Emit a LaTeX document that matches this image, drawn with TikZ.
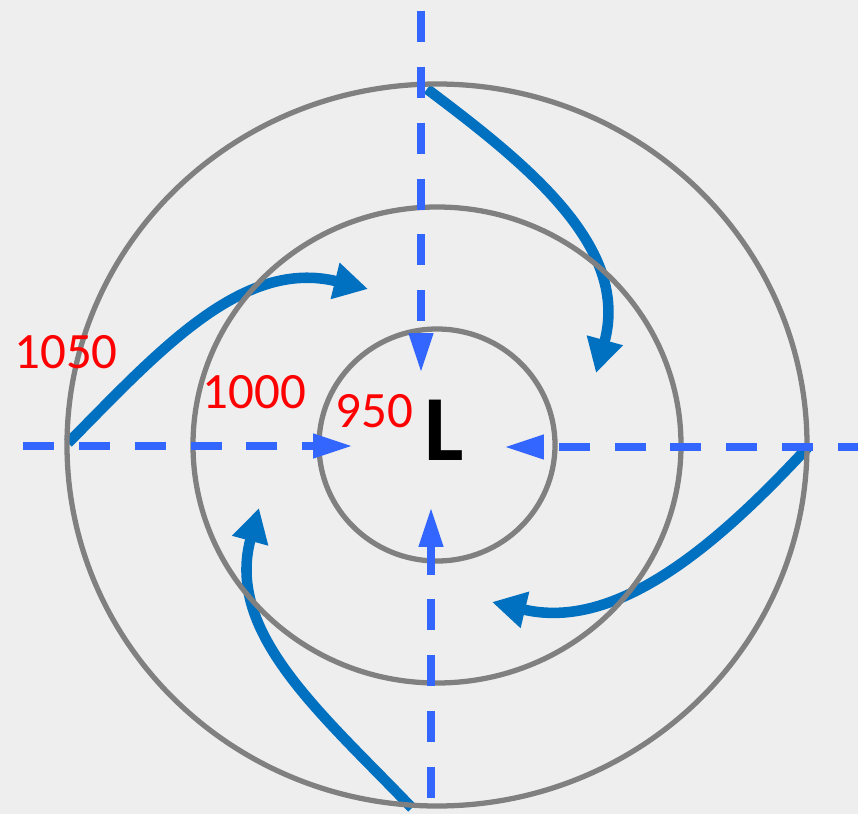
\documentclass[tikz,border=0pt]{standalone}
\usepackage{fontspec}
\setmainfont{Carlito}
\usepackage{xcolor}
\usepackage{tikz}
\usetikzlibrary{arrows.meta}

\definecolor{bgcol}{HTML}{EEEEEE}
\definecolor{isogray}{HTML}{808080}
\definecolor{dashblue}{HTML}{3366FF}
\definecolor{windblue}{HTML}{0070C0}
\definecolor{isored}{HTML}{FF0000}

\begin{document}
\begin{tikzpicture}[
    x=0.02cm, y=-0.02cm,
    isobar/.style={draw=isogray, line width=3pt},
    inflow/.style={draw=dashblue, line width=4.4pt, dash pattern=on 17.6pt off 14.2pt, -{Triangle[length=22.7pt, width=13pt]}},
    wind/.style={draw=windblue, line width=6pt, -{Triangle[length=19.3pt, width=20pt]}},
    pressure/.style={text=isored, inner sep=0pt, font=\fontsize{29}{34}\selectfont}
]

\useasboundingbox (0,0) rectangle (858,814);
\fill[bgcol] (0,0) rectangle (858,814);

\coordinate (c) at (437,445);
\coordinate (nTop) at (421,11);    \coordinate (tTop) at (421,373);
\coordinate (nLeft) at (23,446);   \coordinate (tLeft) at (353,446);
\coordinate (nRight) at (869,447); \coordinate (tRight) at (504,447);
\coordinate (nBot) at (431,798);   \coordinate (tBot) at (431,507);

\coordinate (w1s) at (68,443);  \coordinate (w1e) at (368,289);
\coordinate (w2s) at (427,89);  \coordinate (w2e) at (596,373);
\coordinate (w3s) at (808,447); \coordinate (w3e) at (492,602);
\coordinate (w4s) at (412,808); \coordinate (w4e) at (259,508);

% wind spiralling in
\draw[wind] (w1s) .. controls +(91,-92) and +(-126,-31) .. (w1e);
\draw[wind] (w2s) .. controls +(104,78) and +(34,-125) .. (w2e);
\draw[wind] (w3s) .. controls +(-88,95) and +(126,30) .. (w3e);
\draw[wind] (w4s) .. controls +(-90,-94) and +(-34,125) .. (w4e);

\draw[isobar] (c) ellipse [x radius=370, y radius=361];
\draw[isobar] (c) ellipse [x radius=244, y radius=238];
\draw[isobar] (c) ellipse [x radius=118, y radius=116];

\draw[inflow] (nTop) -- (tTop);
\draw[inflow] (nLeft) -- (tLeft);
\draw[inflow] (nRight) -- (tRight);
\draw[inflow] (nBot) -- (tBot);

\node[pressure] (p1050) at (66,352) {1050};
\node[pressure] (p1000) at (254.5,392) {1000};
\node[pressure] (p950) at (374.5,411.5) {950};
\node[inner sep=0pt, font=\bfseries\fontsize{53}{60}\selectfont] (low) at (444.5,430) {L};

\end{tikzpicture}
\end{document}
